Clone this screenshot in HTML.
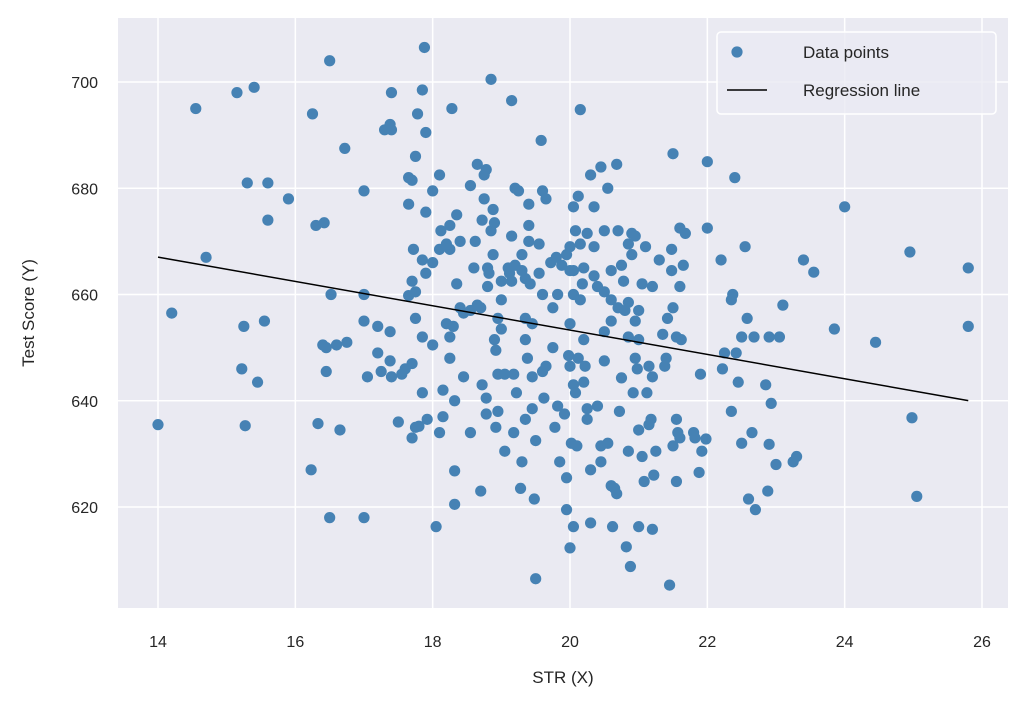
<!DOCTYPE html>
<html><head><meta charset="utf-8"><style>
html,body{margin:0;padding:0;background:#fff;}
svg{display:block;font-family:"Liberation Sans","DejaVu Sans",sans-serif;}
</style></head><body>
<svg id="chart" width="1029" height="707" viewBox="0 0 1029 707">
<rect x="118" y="18" width="890" height="590" fill="#eaeaf2"/>
<g id="grid"></g>
<g id="points"></g>
<g id="reg"></g>
<g id="xt"></g>
<g id="yt"></g>
<text x="563" y="683" font-size="17" fill="#262626" text-anchor="middle">STR (X)</text>
<text transform="translate(34,313) rotate(-90)" font-size="17" fill="#262626" text-anchor="middle">Test Score (Y)</text>
<g>
<rect x="717" y="32" width="279" height="82" rx="4" fill="#eaeaf2" fill-opacity="0.8" stroke="#ffffff" stroke-width="1.5"/>
<circle cx="737" cy="52" r="5.6" fill="#4682b4"/>
<text x="803" y="58" font-size="17" fill="#262626">Data points</text>
<line x1="727" y1="90" x2="767" y2="90" stroke="#000" stroke-width="1.5"/>
<text x="803" y="96" font-size="17" fill="#262626">Regression line</text>
</g>
</svg>
<script>
const xTicks = [14,16,18,20,22,24,26];
const yTicks = [620,640,660,680,700];
const strValues = [14.0,14.2,14.55,14.7,15.15,15.4,15.3,15.25,15.22,15.45,15.27,15.55,15.6,15.6,15.9,16.25,16.3,16.42,16.5,16.23,16.33,16.4,16.45,16.45,16.52,16.6,16.65,16.72,16.75,16.5,17.0,17.0,17.0,17.0,17.05,17.2,17.2,17.25,17.3,17.38,17.4,17.4,17.38,17.4,17.38,17.5,17.55,17.6,17.65,17.7,17.65,17.7,17.65,17.75,17.72,17.75,17.78,17.75,17.7,17.7,17.75,17.8,17.85,17.85,17.85,17.88,17.9,17.85,17.9,17.9,17.92,18.0,18.0,18.0,18.05,18.1,18.1,18.12,18.15,18.1,18.15,18.2,18.2,18.25,18.25,18.25,18.25,18.28,18.3,18.32,18.35,18.35,18.32,18.32,18.4,18.4,18.45,18.45,18.55,18.55,18.55,18.6,18.62,18.65,18.65,18.7,18.7,18.72,18.72,18.75,18.75,18.78,18.8,18.8,18.78,18.78,18.82,18.85,18.85,18.88,18.88,18.9,18.9,18.92,18.95,18.95,18.92,18.95,19.0,19.0,19.0,19.05,19.05,19.1,19.12,19.15,19.15,19.15,19.18,19.18,19.2,19.2,19.25,19.22,19.28,19.3,19.3,19.3,19.35,19.35,19.35,19.38,19.35,19.4,19.4,19.4,19.42,19.45,19.45,19.45,19.48,19.5,19.5,19.55,19.55,19.58,19.6,19.6,19.6,19.62,19.65,19.65,19.72,19.75,19.75,19.78,19.8,19.82,19.82,19.85,19.88,19.92,19.95,19.95,19.95,19.98,20.0,20.0,20.0,20.0,20.0,20.02,20.05,20.05,20.05,20.05,20.05,20.08,20.08,20.1,20.12,20.12,20.15,20.15,20.15,20.18,20.2,20.2,20.2,20.22,20.25,20.25,20.25,20.3,20.3,20.3,20.35,20.35,20.35,20.4,20.4,20.45,20.45,20.45,20.5,20.5,20.5,20.5,20.55,20.55,20.6,20.6,20.6,20.6,20.62,20.65,20.68,20.68,20.7,20.7,20.72,20.75,20.75,20.78,20.8,20.82,20.85,20.85,20.85,20.85,20.88,20.9,20.9,20.92,20.95,20.95,20.95,20.98,21.0,21.0,21.0,21.0,21.05,21.05,21.08,21.1,21.12,21.15,21.15,21.18,21.2,21.2,21.2,21.22,21.25,21.3,21.35,21.38,21.4,21.42,21.45,21.48,21.48,21.5,21.5,21.5,21.55,21.55,21.55,21.57,21.6,21.6,21.6,21.62,21.65,21.68,21.8,21.82,21.88,21.9,21.92,21.98,22.0,22.0,22.2,22.22,22.25,22.35,22.35,22.37,22.4,22.42,22.45,22.5,22.5,22.55,22.58,22.6,22.65,22.68,22.7,22.85,22.88,22.9,22.9,22.93,23.0,23.05,23.1,23.25,23.3,23.4,23.55,23.85,24.0,24.45,24.95,24.98,25.05,25.8,25.8];
const scoreValues = [635.5,656.5,695,667,698,699,681,654,646,643.5,635.3,655,681,674,678,694,673,673.5,704,627,635.7,650.5,650,645.5,660,650.5,634.5,687.5,651,618,618,679.5,660,655,644.5,654,649,645.5,691,692,691,698,647.5,644.5,653,636,645,646,682,681.5,677,662.5,659.8,660.5,668.5,686,694,655.5,647,633,635,635.2,652,666.5,698.5,706.5,690.5,641.5,664,675.5,636.5,679.5,666,650.5,616.3,668.5,682.5,672,637,634,642,654.5,669.5,668.5,673,648,652,695,654,640,675,662,626.8,620.5,670,657.5,656.5,644.5,657,680.5,634,665,670,684.5,658,657.5,623,674,643,678,682.5,683.5,665,661.5,637.5,640.5,664,700.5,672,676,667.5,673.5,651.5,649.5,655.5,645,635,638,653.5,659,662.5,630.5,645,665,664,696.5,671,662.5,645,634,680,665.5,679.5,641.5,623.5,628.5,664.5,667.5,663,655.5,651.5,648,636.5,673,670,677,662,654.5,644.5,638.5,621.5,632.5,606.5,664,669.5,689,679.5,660,645.5,640.5,678,646.5,666,657.5,650,635,667,660,639,628.5,665.5,637.5,619.5,625.5,667.5,648.5,664.5,669,654.5,646.5,612.3,632,676.5,664.5,660,643,616.3,672,641.5,631.5,678.5,648,694.8,669.5,659,662,665,651.5,643.5,646.5,671.5,638.5,636.5,682.5,617,627,676.5,669,663.5,661.5,639,684,631.5,628.5,672,660.5,653,647.5,680,632,664.5,659,655,624,616.3,623.5,684.5,622.5,672,657.5,638,665.5,644.3,662.5,657,612.5,669.5,658.5,652,630.5,608.8,671.5,667.5,641.5,671,655,648,646,657,651.5,634.5,616.3,662,629.5,624.8,669,641.5,646.5,635.5,636.5,661.5,644.5,615.8,626,630.5,666.5,652.5,646.5,648,655.5,605.3,668.5,664.5,686.5,657.5,631.5,636.5,624.8,652,634,633,672.5,661.5,651.5,665.5,671.5,634,633,626.5,645,630.5,632.8,685,672.5,666.5,646,649,638,659,660,682,649,643.5,652,632,669,655.5,621.5,634,652,619.5,643,623,652,631.8,639.5,628,652,658,628.5,629.5,666.5,664.2,653.5,676.5,651,668,636.8,622,665,654];
const regIntercept = [699.1];
const regSlope = [-2.29];

const NS='http://www.w3.org/2000/svg';
const X0=158, XS=(982-158)/12;
const Y0=294.5, YS=425/80;
function xs(v){return X0+(v-14)*XS;}
function ys(v){return Y0-(v-660)*YS;}
function mk(t,a){const e=document.createElementNS(NS,t);for(const k in a)e.setAttribute(k,a[k]);return e;}
const grid=document.getElementById('grid'), xt=document.getElementById('xt'), yt=document.getElementById('yt');
xTicks.forEach(t=>{
  const l=mk('line',{x1:xs(t),x2:xs(t),y1:18,y2:608,stroke:'#fff','stroke-width':1.5});
  
  
  grid.appendChild(l);
  const tx=mk('text',{x:xs(t),y:647,'font-size':16,fill:'#262626','text-anchor':'middle'});
  
  
  tx.textContent=t; xt.appendChild(tx);
});
yTicks.forEach(t=>{
  const l=mk('line',{x1:118,x2:1008,y1:ys(t),y2:ys(t),stroke:'#fff','stroke-width':1.5});
  
  
  grid.appendChild(l);
  const tx=mk('text',{x:98,y:ys(t)+6,'font-size':16,fill:'#262626','text-anchor':'end'});
  
  
  tx.textContent=t; yt.appendChild(tx);
});
const pts=document.getElementById('points');
strValues.forEach((x,i)=>{
  const c=mk('circle',{cx:xs(x),cy:ys(scoreValues[i]),r:5.6,fill:'#4682b4'});
  
  
  pts.appendChild(c);
});
const xmin=Math.min(...strValues), xmax=Math.max(...strValues);
const rl=mk('line',{x1:xs(xmin),y1:ys(regIntercept[0]+regSlope[0]*xmin),x2:xs(xmax),y2:ys(regIntercept[0]+regSlope[0]*xmax),stroke:'#000','stroke-width':1.5});


document.getElementById('reg').appendChild(rl);
</script>
</body></html>
